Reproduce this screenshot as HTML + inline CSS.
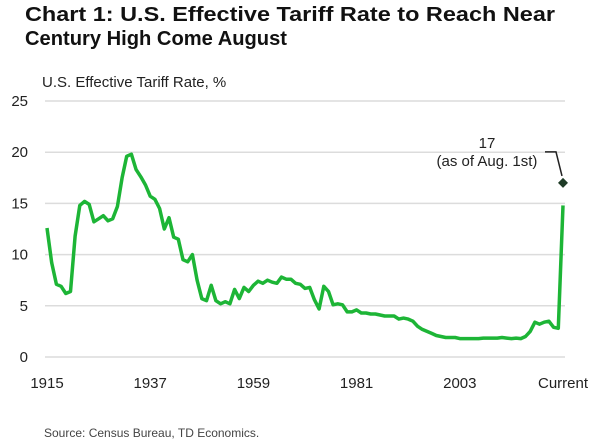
<!DOCTYPE html>
<html><head><meta charset="utf-8"><style>
html,body{margin:0;padding:0;background:#fff;}
svg{display:block;font-family:"Liberation Sans",sans-serif;}
</style></head><body>
<svg id="chart" width="600" height="448" viewBox="0 0 600 448">
<text x="25" y="21" font-size="20" font-weight="bold" fill="#111" textLength="530" lengthAdjust="spacingAndGlyphs">Chart 1: U.S. Effective Tariff Rate to Reach Near</text>
<text x="25" y="45" font-size="20" font-weight="bold" fill="#111" textLength="262" lengthAdjust="spacingAndGlyphs">Century High Come August</text>
<text x="42" y="87" font-size="15" fill="#222">U.S. Effective Tariff Rate, %</text>
<g id="grid"></g>
<g id="yticks"></g>
<g id="xticks"></g>
<path id="line" fill="none" stroke="#1db536" stroke-width="3.5" stroke-linejoin="round"/>
<polyline id="leader" fill="none" stroke="#222" stroke-width="1.5"/>
<path id="diamond" fill="#1e3b26"/>
<text id="annVal" font-size="15" fill="#222" text-anchor="middle">17</text>
<text id="annTxt" font-size="15" fill="#222" text-anchor="middle">(as of Aug. 1st)</text>
<text x="44" y="437" font-size="12" fill="#444">Source: Census Bureau, TD Economics.</text>
</svg>
<script>
const years = [];
for (let y = 1915; y <= 2025; y++) years.push(y);
const rates = [12.6,9.2,7.1,6.9,6.2,6.4,11.8,14.8,15.2,14.9,13.2,13.5,13.8,13.3,13.5,14.7,17.5,19.6,19.8,18.3,17.6,16.8,15.7,15.4,14.5,12.5,13.6,11.7,11.5,9.5,9.3,10.0,7.5,5.7,5.5,7.0,5.5,5.2,5.4,5.2,6.6,5.7,6.8,6.4,7.0,7.4,7.2,7.5,7.3,7.2,7.8,7.6,7.6,7.2,7.1,6.7,6.8,5.6,4.7,6.9,6.4,5.1,5.2,5.1,4.4,4.4,4.6,4.3,4.3,4.2,4.2,4.1,4.0,4.0,4.0,3.7,3.8,3.7,3.5,3.0,2.7,2.5,2.3,2.1,2.0,1.9,1.9,1.9,1.8,1.8,1.8,1.8,1.8,1.85,1.85,1.85,1.85,1.9,1.85,1.8,1.85,1.8,2.0,2.5,3.4,3.2,3.4,3.5,2.9,2.8,14.8];
const yTicks = [0,5,10,15,20,25];
const xTickYears = [1915,1937,1959,1981,2003,2025];
const xTickLabels = ["1915","1937","1959","1981","2003","Current"];
const annotValue = [17];
const annotYear = [2025];

const NS = "http://www.w3.org/2000/svg";
const x = yr => 47 + (yr - 1915) * (563 - 47) / 110;
const y = v => 357 - v * (357 - 101) / 25;

const grid = document.getElementById('grid');
const yt = document.getElementById('yticks');
yTicks.forEach(t => {
  const l = document.createElementNS(NS, 'line');
  
  
  l.setAttribute('x1', 45); l.setAttribute('x2', 565);
  l.setAttribute('y1', y(t)); l.setAttribute('y2', y(t));
  l.setAttribute('stroke', '#dcdcdc'); l.setAttribute('stroke-width', '1.5');
  grid.appendChild(l);
  const tx = document.createElementNS(NS, 'text');
  
  
  tx.setAttribute('x', 28); tx.setAttribute('y', y(t) + 5);
  tx.setAttribute('text-anchor', 'end'); tx.setAttribute('font-size', '15'); tx.setAttribute('fill', '#222');
  tx.textContent = t;
  yt.appendChild(tx);
});
const xt = document.getElementById('xticks');
xTickYears.forEach((yr, i) => {
  const tx = document.createElementNS(NS, 'text');
  
  
  tx.setAttribute('x', x(yr)); tx.setAttribute('y', 388);
  tx.setAttribute('text-anchor', 'middle'); tx.setAttribute('font-size', '15'); tx.setAttribute('fill', '#222');
  tx.textContent = xTickLabels[i];
  xt.appendChild(tx);
});
document.getElementById('line').setAttribute('d', rates.map((v, i) => (i ? 'L' : 'M') + x(years[i]).toFixed(1) + ',' + y(v).toFixed(1)).join(''));
const dx = x(annotYear[0]), dy = y(annotValue[0]);
document.getElementById('diamond').setAttribute('d', `M${dx},${dy-5}L${dx+5},${dy}L${dx},${dy+5}L${dx-5},${dy}Z`);
document.getElementById('leader').setAttribute('points', `${dx-18},${dy-31} ${dx-7},${dy-31} ${dx-1},${dy-7}`);
const av = document.getElementById('annVal'); av.setAttribute('x', dx - 76); av.setAttribute('y', dy - 35);
const at = document.getElementById('annTxt'); at.setAttribute('x', dx - 76); at.setAttribute('y', dy - 17);
</script>
</body></html>
